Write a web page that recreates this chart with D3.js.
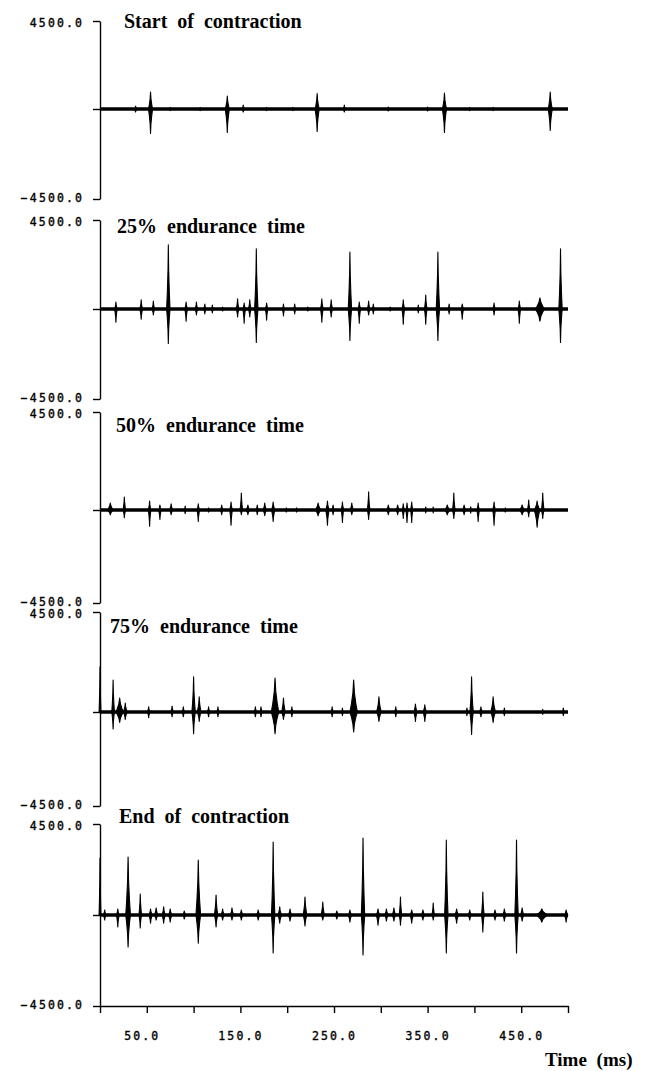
<!DOCTYPE html>
<html lang="en">
<head>
<meta charset="UTF-8">
<title>EMG during sustained contraction</title>
<script src="https://d3js.org/d3.v7.min.js"></script>
<style>
body{margin:0;background:#fff;}
svg{display:block;}
.axis path,.axis line{stroke:#000;stroke-width:1.4px;fill:none;}
.axis text{font-family:"DejaVu Sans Mono",monospace;font-size:11.5px;letter-spacing:2.1px;fill:#000;stroke:#000;stroke-width:0.35px;}
.title{font-family:"Liberation Serif","Times New Roman",serif;font-weight:bold;font-size:20px;word-spacing:5px;fill:#000;}
.baseline{stroke:#000;stroke-width:3.4px;fill:none;}
.burst{fill:#000;stroke:#000;stroke-width:1.1px;stroke-linejoin:round;}
</style>
</head>
<body>
<svg width="647" height="1071"></svg>
<script>
// titles, ticks
var panelTitles = ["Start of contraction", "25% endurance time", "50% endurance time", "75% endurance time", "End of contraction"];
var yTicks = [-4500, 0, 4500];
var xTicks = [0, 50, 100, 150, 200, 250, 300, 350, 400, 450, 500];
var xLabelled = [50, 150, 250, 350, 450];
var xTitle = "Time (ms)";

// bursts: [time ms, positive peak, negative peak, half width ms]
var startBursts = [
  [38, 150, 150, 1.5], [54, 870, 1220, 2.2], [75, 80, 80, 1], [107, 80, 80, 1],
  [136, 660, 1170, 2.2], [153, 200, 150, 1.5], [178, 80, 80, 1], [206, 80, 80, 1],
  [232, 790, 1120, 2.2], [261, 200, 150, 1.5], [308, 100, 100, 1.5], [350, 100, 100, 1],
  [368, 820, 1170, 2.2], [395, 80, 80, 1], [420, 80, 80, 1], [481, 870, 1070, 2.2]
];
var pct25Bursts = [
  [17, 350, 660, 1.4], [44, 460, 510, 1.4], [57, 400, 300, 1.4], [73, 3240, 1720, 1.8],
  [92, 350, 610, 1.4], [103, 350, 300, 1.4], [112, 250, 250, 1.2], [120, 200, 200, 1.2],
  [131, 100, 100, 1], [147, 510, 400, 1.4], [154, 300, 710, 1.4], [160, 460, 400, 1.4],
  [167, 3040, 1670, 1.8], [178, 300, 560, 1.4], [196, 250, 350, 1.2], [208, 250, 250, 1.2],
  [222, 100, 100, 1], [237, 510, 660, 1.4], [247, 460, 400, 1.4], [267, 2880, 1570, 1.8],
  [277, 350, 710, 1.4], [287, 400, 300, 1.4], [292, 250, 250, 1.2], [310, 100, 100, 1],
  [324, 460, 760, 1.4], [340, 200, 200, 1.2], [348, 710, 760, 1.4], [361, 2880, 1570, 1.8],
  [373, 250, 250, 1.2], [387, 250, 510, 1.4], [421, 300, 300, 1.2], [448, 400, 710, 1.4],
  [470, 560, 610, 5], [492, 3040, 1670, 1.8]
];
var pct50Bursts = [
  [11, 320, 230, 3], [26, 600, 370, 1.4], [53, 410, 780, 1.4], [64, 230, 460, 1.4],
  [76, 280, 230, 1.8], [91, 180, 180, 1.2], [105, 280, 550, 1.4], [116, 100, 100, 1],
  [130, 230, 230, 1.4], [140, 370, 740, 1.4], [151, 780, 230, 1.4], [158, 230, 230, 2],
  [168, 230, 230, 1.2], [176, 320, 280, 1.8], [185, 370, 550, 1.8], [199, 100, 100, 1],
  [210, 100, 100, 1], [233, 320, 280, 3], [243, 410, 740, 1.8], [249, 230, 230, 1.2],
  [259, 370, 600, 1.4], [269, 320, 230, 1.8], [287, 830, 460, 1.4], [308, 230, 230, 1.8],
  [318, 230, 230, 1.8], [324, 280, 410, 1.2], [328, 320, 600, 1.2], [333, 370, 600, 1.2],
  [348, 140, 140, 1], [356, 140, 140, 1], [371, 230, 230, 3], [378, 780, 410, 1.4],
  [389, 230, 230, 1.8], [396, 150, 150, 1], [404, 320, 550, 1.4], [421, 370, 740, 1.4],
  [433, 100, 100, 1], [451, 230, 230, 3], [458, 460, 320, 1.4], [467, 410, 830, 3],
  [473, 780, 410, 1.4]
];
var pct75Bursts = [
  [0, 2030, 0, 1], [14, 1440, 810, 1.4], [21, 630, 500, 4], [27, 400, 360, 2],
  [52, 230, 270, 1.4], [77, 270, 230, 1.4], [89, 230, 230, 1.4], [100, 1580, 1040, 1.8],
  [106, 680, 450, 2], [116, 230, 230, 1.4], [126, 230, 230, 1.4], [166, 230, 230, 1.4],
  [172, 230, 230, 1.4], [187, 1530, 1040, 4], [196, 630, 360, 2], [205, 230, 230, 1.4],
  [248, 230, 230, 1.4], [259, 180, 180, 1.2], [271, 1440, 950, 4], [298, 680, 450, 2.5],
  [316, 230, 230, 1.4], [337, 360, 450, 1.8], [347, 320, 450, 1.8], [392, 180, 180, 1.2],
  [397, 1580, 1080, 1.8], [407, 230, 230, 1.8], [420, 680, 500, 2.5], [432, 180, 180, 1.2],
  [473, 120, 120, 1], [495, 180, 180, 1.2]
];
var endBursts = [
  [0, 2820, 0, 1], [5, 250, 250, 1.5], [19, 300, 590, 1.5], [30, 2870, 1580, 2.5],
  [43, 1040, 640, 1.4], [54, 300, 400, 1.8], [60, 350, 250, 1.8], [68, 400, 400, 1.8],
  [75, 300, 350, 1.8], [90, 200, 200, 1.8], [105, 2720, 1390, 2.5], [124, 990, 590, 1.8],
  [131, 300, 250, 1.8], [141, 350, 250, 1.8], [151, 250, 250, 1.8], [169, 250, 250, 1.8],
  [185, 3610, 1880, 1.8], [192, 400, 400, 2], [203, 300, 300, 1.8], [219, 890, 540, 2],
  [238, 640, 250, 1.8], [253, 200, 200, 1.8], [267, 250, 350, 1.8], [281, 3810, 1980, 1.8],
  [297, 300, 500, 1.8], [306, 300, 300, 1.8], [314, 350, 300, 1.8], [321, 890, 500, 1.4],
  [333, 250, 400, 1.8], [345, 250, 250, 1.8], [356, 590, 250, 1.4], [370, 3710, 1880, 1.8],
  [381, 300, 400, 2], [395, 250, 250, 1.8], [409, 1140, 840, 1.4], [422, 250, 250, 1.8],
  [432, 300, 300, 1.8], [445, 3710, 1880, 1.8], [451, 350, 300, 1.8], [472, 300, 350, 6],
  [498, 250, 350, 1.8]
];
var traceEnd = 500;

var panelBursts = [startBursts, pct25Bursts, pct50Bursts, pct75Bursts, endBursts];

// where each panel sits on the page
var panelBox = [
  {top: 21,  zero: 109, bottom: 199, titleX: 124, titleY: 28},
  {top: 220, zero: 309, bottom: 399, titleX: 117, titleY: 233},
  {top: 412, zero: 510, bottom: 603, titleX: 116, titleY: 432},
  {top: 612, zero: 712, bottom: 806, titleX: 110, titleY: 633},
  {top: 824, zero: 915, bottom: 1006, titleX: 119, titleY: 823}
];

var svg = d3.select("svg");
var x = d3.scaleLinear().domain([0, 500]).range([100, 568]);
var fmt = d3.format(".1f");

// spindle-shaped burst: solid near the baseline, thin toward the peaks
function burstPath(b, y) {
  var t = b[0], up = b[1], dn = b[2], w = b[3];
  var pts = [[t - w, 0], [t - w * 0.6, up * 0.25], [t - w * 0.2, up * 0.6], [t, up],
             [t + w * 0.2, up * 0.6], [t + w * 0.6, up * 0.25], [t + w, 0],
             [t + w * 0.6, -dn * 0.25], [t + w * 0.2, -dn * 0.6], [t, -dn],
             [t - w * 0.2, -dn * 0.6], [t - w * 0.6, -dn * 0.25]];
  return d3.line().x(function(p){ return x(p[0]); }).y(function(p){ return y(p[1]); })(pts) + "Z";
}

panelBox.forEach(function(box, i){
  var y = d3.scaleLinear().domain([-4500, 0, 4500]).range([box.bottom, box.zero, box.top]);
  var g = svg.append("g").attr("class", "panel");

  var yAxis = g.append("g")
      .attr("class", "axis")
      .attr("transform", "translate(" + x(0) + ",0)")
      .call(d3.axisLeft(y).tickValues(yTicks).tickSize(7).tickSizeOuter(0).tickPadding(9)
        .tickFormat(function(d){ return d === 0 ? "" : fmt(d); }));
  yAxis.selectAll("text").attr("dy", function(d){ return d > 0 ? "0.5em" : "0.2em"; });

  g.append("path")
      .attr("class", "baseline")
      .attr("d", d3.line().x(function(d){ return x(d); }).y(y(0))([0, traceEnd]));

  g.selectAll("path.burst")
    .data(panelBursts[i])
    .enter().append("path")
      .attr("class", "burst")
      .attr("d", function(d){ return burstPath(d, y); });

  g.append("text")
      .attr("class", "title")
      .attr("x", box.titleX)
      .attr("y", box.titleY)
      .text(panelTitles[i]);
});

var last = panelBox[panelBox.length - 1];
var xAxis = svg.append("g")
    .attr("class", "axis")
    .attr("transform", "translate(0," + last.bottom + ")")
    .call(d3.axisBottom(x).tickValues(xTicks).tickSize(7).tickSizeOuter(0).tickPadding(19)
      .tickFormat(function(d){ return xLabelled.indexOf(d) >= 0 ? fmt(d) : ""; }));
xAxis.selectAll("text").attr("dx", function(d){ return d === 50 ? -5 : 0; });

svg.append("text")
    .attr("class", "title")
    .attr("x", 545)
    .attr("y", 1066)
    .style("font-size", "19px")
    .text(xTitle);
</script>
</body>
</html>
